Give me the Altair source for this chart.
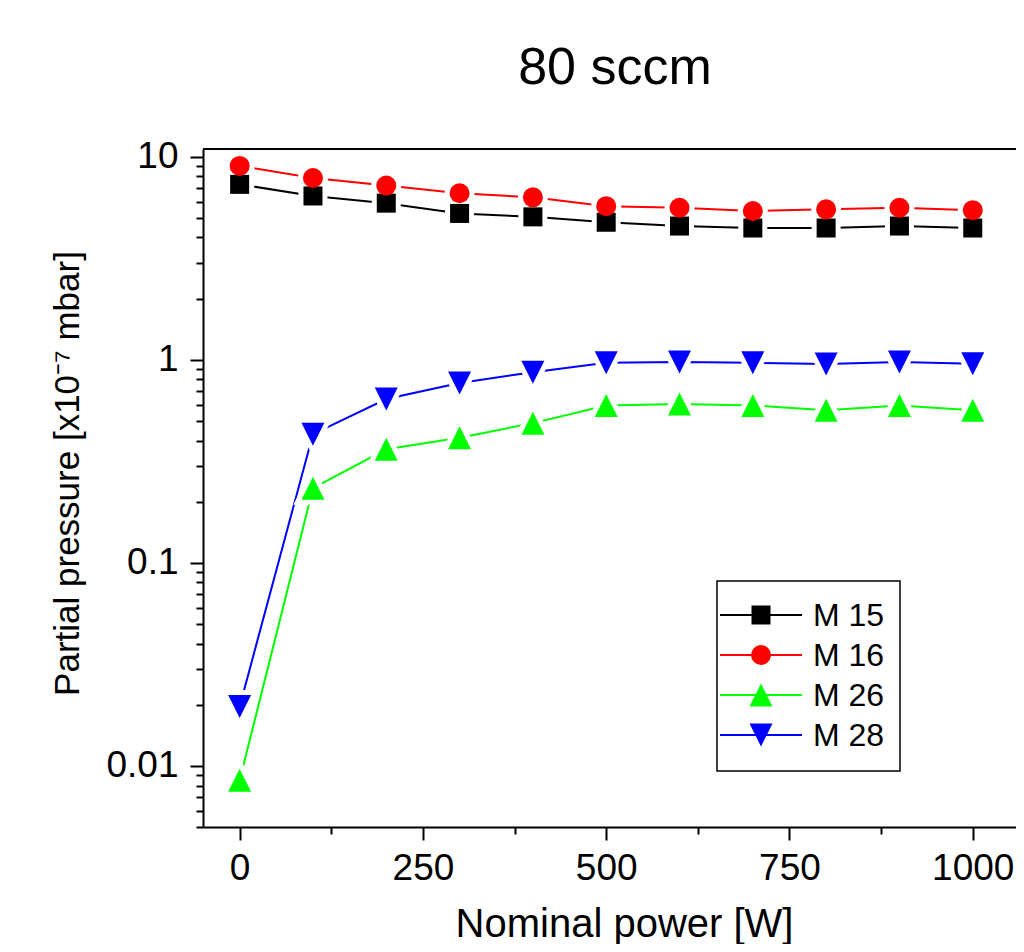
import altair as alt
import pandas as pd

# ---- data ----
power = [0, 100, 200, 300, 400, 500, 600, 700, 800, 900, 1000]
m15 = [7.3, 6.4, 5.9, 5.25, 5.05, 4.75, 4.55, 4.45, 4.45, 4.55, 4.45]
m16 = [9.0, 7.85, 7.2, 6.6, 6.3, 5.7, 5.6, 5.4, 5.5, 5.6, 5.45]
m26 = [0.0085, 0.233, 0.362, 0.413, 0.487, 0.595, 0.605, 0.595, 0.563, 0.595, 0.563]
m28 = [0.0196, 0.43, 0.64, 0.768, 0.868, 0.965, 0.975, 0.965, 0.952, 0.975, 0.955]

series_names = ["M 15", "M 16", "M 26", "M 28"]
colors = ["#000000", "#FF0000", "#00FF00", "#0000FF"]
x_tick_values = [0, 125, 250, 375, 500, 625, 750, 875, 1000]
y_tick_values = [round(k * 10.0 ** e, 6) for e in range(-3, 2) for k in range(1, 10)
                 if 0.005 <= round(k * 10.0 ** e, 6) <= 10.9]
title_text = "80 sccm"

rows = []
for name, vals in zip(series_names, [m15, m16, m26, m28]):
    for p, v in zip(power, vals):
        rows.append({"series": name, "power": p, "pressure": v})
df = pd.DataFrame(rows)

W, H = 813, 678
FONT = "Liberation Sans"

# marker shapes
shapes = ["square", "circle", "M0,-1L1,1L-1,1Z", "M0,1L1,-1L-1,-1Z"]
sizes = [361, 400, 529, 529]

x_scale = alt.Scale(domain=[-50, 1059], nice=False, zero=False)
y_scale = alt.Scale(type="log", domain=[0.005, 10.9], nice=False)

x_axis = alt.Axis(
    values=x_tick_values, format="d",
    labelExpr="datum.value % 250 === 0 ? datum.label : ''",
    tickSize={"condition": {"test": "datum.value % 250 === 0", "value": 13}, "value": 7},
    labelFontSize=37, labelPadding=10, labelFlush=False, labelOverlap=False,
    title="Nominal power [W]", titleFontSize=40,
    titleX=421, titleY=109, titleBaseline="alphabetic", titleAlign="center",
)
is_decade = "abs(log(datum.value)/LN10 - round(log(datum.value)/LN10)) < 1e-6"
y_axis = alt.Axis(
    values=y_tick_values, format="~g",
    labelExpr=is_decade + " ? datum.label : ''",
    tickSize={"condition": {"test": is_decade, "value": 13}, "value": 7},
    labelFontSize=37, labelPadding=12, labelOverlap=False, labelFlush=False,
    title="Partial pressure [x10⁻⁷ mbar]", titleFontSize=35,
    titleX=-118, titleY=324, titleBaseline="bottom", titleAngle=270, titleAlign="center",
)

X = alt.X("power:Q", scale=x_scale, axis=x_axis)
Y = alt.Y("pressure:Q", scale=y_scale, axis=y_axis)

base = alt.Chart(df)
one = pd.DataFrame({"a": [0]})

frame_top = alt.Chart(one).mark_rule(color="black", strokeWidth=2).encode(
    x=alt.value(0), x2=alt.value(W), y=alt.value(0)
)

title = alt.Chart(one).mark_text(
    font=FONT, fontSize=52, color="black", align="center", baseline="alphabetic"
).encode(x=alt.value(412), y=alt.value(-65), text=alt.value(title_text))

lines = base.mark_line(strokeWidth=2).encode(
    x=X, y=Y,
    color=alt.Color("series:N", scale=alt.Scale(domain=series_names, range=colors), legend=None),
    order="power:Q",
)

# white halos around markers (gap between line and symbol), then the markers
halos = []
markers = []
for name, shp, sz, col in zip(series_names, shapes, sizes, colors):
    halos.append(
        base.transform_filter(alt.datum.series == name)
        .mark_point(shape=shp, size=sz, filled=True, opacity=1)
        .encode(x=X, y=Y, fill=alt.value("#ffffff"), stroke=alt.value("#ffffff"),
                strokeWidth=alt.value(10))
    )
    markers.append(
        base.transform_filter(alt.datum.series == name)
        .mark_point(shape=shp, size=sz, filled=True, opacity=1)
        .encode(x=X, y=Y, fill=alt.value(col), strokeWidth=alt.value(0))
    )

# ---- hand-built legend (box at 514,432 of the plot area) ----
LX, LY, LW, LH = 514, 432, 183, 190
legend_layers = [
    alt.Chart(one).mark_rect(fill="white", stroke="black", strokeWidth=1.5).encode(
        x=alt.value(LX), x2=alt.value(LX + LW), y=alt.value(LY), y2=alt.value(LY + LH))
]
for i, (name, shp, sz, col) in enumerate(zip(series_names, shapes, sizes, colors)):
    ry = LY + 34 + 40 * i
    legend_layers.append(
        alt.Chart(one).mark_rule(color=col, strokeWidth=2).encode(
            x=alt.value(LX + 3), x2=alt.value(LX + 85), y=alt.value(ry)))
    legend_layers.append(
        alt.Chart(one).mark_point(shape=shp, size=sz, filled=True, opacity=1).encode(
            x=alt.value(LX + 44), y=alt.value(ry), fill=alt.value(col),
            strokeWidth=alt.value(0)))
    legend_layers.append(
        alt.Chart(one).mark_text(font=FONT, fontSize=32, color="black", align="left",
                                 baseline="middle").encode(
            x=alt.value(LX + 96), y=alt.value(ry + 1), text=alt.value(name)))

chart = alt.layer(frame_top, lines, *halos, *markers, *legend_layers, title).properties(
    width=W, height=H,
    autosize=alt.AutoSizeParams(type="none"),
    padding={"left": 195, "top": 141, "right": 0, "bottom": 117},
).configure_view(stroke=None).configure_axis(
    grid=False, domainColor="black", tickColor="black", labelColor="black",
    titleColor="black", labelFont=FONT, titleFont=FONT, domainWidth=2, tickWidth=2,
    titleFontWeight="normal",
)

chart.save("out.html", embed_options={"renderer": "svg", "actions": False})
